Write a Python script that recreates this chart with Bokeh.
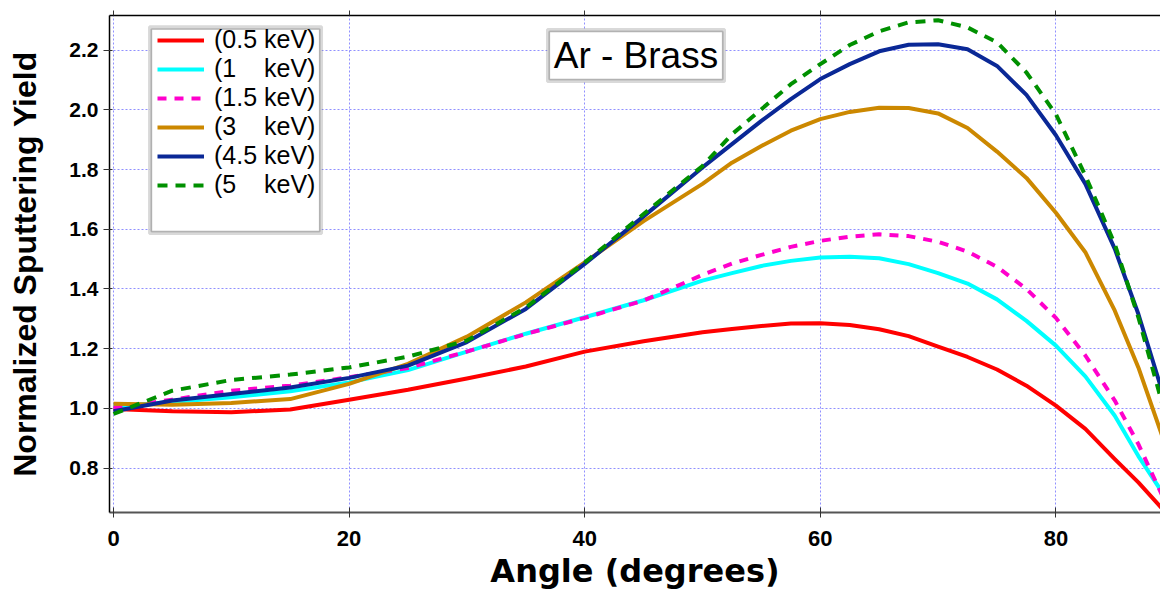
from bokeh.plotting import figure
from bokeh.models import (Range1d, FixedTicker, LinearAxis, Legend, LegendItem,
                          BoxAnnotation, Label, NumeralTickFormatter)
from bokeh.embed import file_html
from bokeh.resources import INLINE

# ---------------- data ----------------
angles = [0, 5, 10, 15, 20, 25, 30, 35, 40, 45, 50, 52.5, 55, 57.5, 60, 62.5,
          65, 67.5, 70, 72.5, 75, 77.5, 80, 82.5, 85, 87, 89]

y_05keV = [0.998, 0.990, 0.987, 0.996, 1.029, 1.062, 1.100, 1.140, 1.190, 1.225,
           1.255, 1.266, 1.276, 1.284, 1.285, 1.279, 1.265, 1.242, 1.207, 1.172,
           1.130, 1.076, 1.009, 0.931, 0.830, 0.752, 0.665]
y_1keV = [1.006, 1.021, 1.037, 1.057, 1.087, 1.128, 1.190, 1.250, 1.305, 1.362,
          1.428, 1.453, 1.477, 1.494, 1.505, 1.508, 1.503, 1.483, 1.453, 1.418,
          1.365, 1.293, 1.210, 1.107, 0.975, 0.840, 0.720]
y_15keV = [1.002, 1.029, 1.059, 1.076, 1.104, 1.135, 1.190, 1.249, 1.303, 1.361,
           1.447, 1.485, 1.514, 1.541, 1.561, 1.575, 1.583, 1.577, 1.558, 1.525,
           1.474, 1.400, 1.303, 1.177, 1.026, 0.880, 0.710]
y_3keV = [1.015, 1.012, 1.018, 1.031, 1.082, 1.149, 1.240, 1.355, 1.489, 1.627,
          1.752, 1.823, 1.879, 1.930, 1.969, 1.993, 2.007, 2.006, 1.988, 1.939,
          1.860, 1.772, 1.655, 1.523, 1.327, 1.137, 0.910]
y_45keV = [0.990, 1.026, 1.048, 1.070, 1.102, 1.143, 1.222, 1.333, 1.484, 1.643,
           1.807, 1.885, 1.963, 2.036, 2.103, 2.153, 2.196, 2.218, 2.220, 2.203,
           2.147, 2.050, 1.915, 1.752, 1.534, 1.316, 1.060]
y_5keV = [0.981, 1.059, 1.095, 1.113, 1.137, 1.173, 1.227, 1.338, 1.488, 1.651,
          1.812, 1.918, 2.002, 2.086, 2.153, 2.217, 2.263, 2.293, 2.300, 2.276,
          2.226, 2.125, 1.985, 1.780, 1.550, 1.305, 1.020]

NB = "\u00a0"
series_labels = ["(0.5 keV)", "(1" + NB * 4 + "keV)", "(1.5 keV)",
                 "(3" + NB * 4 + "keV)", "(4.5 keV)", "(5" + NB * 4 + "keV)"]
series_values = [y_05keV, y_1keV, y_15keV, y_3keV, y_45keV, y_5keV]
series_colors = ["#ff0000", "#00ffff", "#ff00cc", "#cc8800", "#0a2896", "#009000"]
series_dashes = ["solid", "solid", "9 8", "solid", "solid", "10 8"]

x_ticks = [0, 20, 40, 60, 80]
y_ticks = [0.8, 1.0, 1.2, 1.4, 1.6, 1.8, 2.0, 2.2]

title_text = "Ar - Brass"
x_title = "Angle (degrees)"
y_title = "Normalized Sputtering Yield"

# ---------------- figure ----------------
p = figure(width=1160, height=596, output_backend="svg", toolbar_location=None,
           x_range=Range1d(-0.34, 88.88), y_range=Range1d(0.651, 2.316),
           min_border_left=109, min_border_right=0, min_border_top=15,
           min_border_bottom=84)
p.outline_line_color = None
p.background_fill_color = "white"
p.border_fill_color = "white"

# grid
for g, t in ((p.xgrid, x_ticks), (p.ygrid, y_ticks)):
    g.ticker = FixedTicker(ticks=t)
    g.grid_line_color = "#8484ff"
    g.grid_line_dash = "2 2"
    g.grid_line_width = 1
    g.grid_line_alpha = 0.9

# bottom axis
xa = p.xaxis[0]
xa.ticker = FixedTicker(ticks=x_ticks)
xa.axis_line_color = "#555555"
xa.axis_line_width = 2
xa.major_tick_in = 5
xa.major_tick_out = 5
xa.major_tick_line_color = "#333333"
xa.minor_tick_line_color = None
xa.major_label_text_font = "Liberation Sans"
xa.major_label_text_font_style = "bold"
xa.major_label_text_font_size = "22px"
xa.major_label_text_color = "black"
xa.major_label_standoff = 13
xa.axis_label = x_title
xa.axis_label_text_font = "DejaVu Sans"
xa.axis_label_text_font_style = "bold"
xa.axis_label_text_font_size = "32px"
xa.axis_label_text_color = "black"
xa.axis_label_standoff = 3

# left axis
ya = p.yaxis[0]
ya.ticker = FixedTicker(ticks=y_ticks)
ya.formatter = NumeralTickFormatter(format="0.0")
ya.axis_line_color = "black"
ya.axis_line_width = 1.5
ya.major_tick_in = 3
ya.major_tick_out = 6
ya.major_tick_line_color = "#333333"
ya.minor_tick_line_color = None
ya.major_label_text_font = "Liberation Sans"
ya.major_label_text_font_style = "bold"
ya.major_label_text_font_size = "21px"
ya.major_label_text_color = "black"
ya.major_label_standoff = 5
ya.axis_label = y_title
ya.axis_label_text_font = "Liberation Sans"
ya.axis_label_text_font_style = "bold"
ya.axis_label_text_font_size = "32px"
ya.axis_label_text_color = "black"
ya.axis_label_standoff = 23

# top axis: line + unlabeled tick marks only (drawn as minor ticks)
top = LinearAxis(ticker=FixedTicker(ticks=[], minor_ticks=x_ticks),
                 axis_line_color="black", axis_line_width=1.5,
                 major_tick_line_color=None,
                 minor_tick_in=0, minor_tick_out=5,
                 minor_tick_line_color="#333333", minor_tick_line_width=1)
p.add_layout(top, "above")

# curves
renderers = []
for vals, col, dash in zip(series_values, series_colors, series_dashes):
    r = p.line(angles, vals, line_color=col, line_width=4, line_dash=dash,
               line_join="round")
    renderers.append(r)

# legend frame (double border)
p.add_layout(BoxAnnotation(left=3.06, right=17.66, top=2.2787, bottom=1.5853,
                           fill_color="white", fill_alpha=1.0,
                           line_color="#808080", line_width=3))
p.add_layout(BoxAnnotation(left=3.22, right=17.50, top=2.271, bottom=1.592,
                           fill_alpha=0.0, line_color="black", line_width=1.5))

legend = Legend(items=[LegendItem(label=lab, renderers=[r])
                       for lab, r in zip(series_labels, renderers)],
                location=(48, 313), padding=0, spacing=0, margin=0,
                glyph_width=47, glyph_height=28, label_height=28,
                label_standoff=10,
                label_text_font="Liberation Sans", label_text_font_size="25px",
                label_text_color="black",
                border_line_color=None, background_fill_alpha=0.0)
p.add_layout(legend, "center")

# title box
p.add_layout(BoxAnnotation(left=36.84, right=51.87, top=2.2687, bottom=2.0945,
                           fill_color="white", fill_alpha=1.0,
                           line_color="#808080", line_width=3))
p.add_layout(BoxAnnotation(left=37.0, right=51.71, top=2.2620, bottom=2.1012,
                           fill_alpha=0.0, line_color="black", line_width=1.5))
p.add_layout(Label(x=44.35, y=2.1816, text=title_text, text_align="center",
                   text_baseline="middle", text_font="Liberation Sans",
                   text_font_size="37px", text_color="black"))

open("out.html", "w").write(file_html(p, INLINE))
